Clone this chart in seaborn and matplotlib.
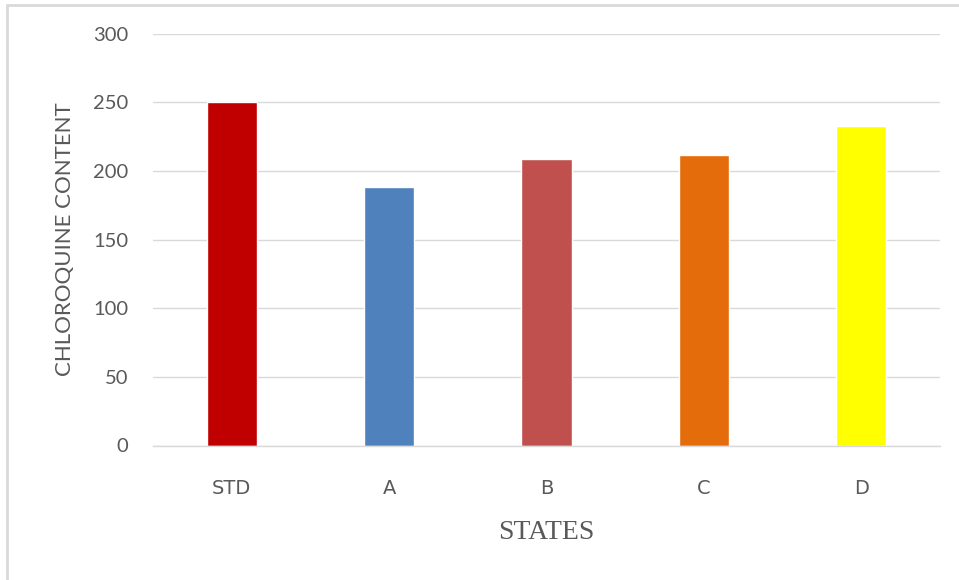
import matplotlib
matplotlib.use("Agg")
import matplotlib.pyplot as plt
from matplotlib.lines import Line2D
import seaborn as sns
import pandas as pd

# Chloroquine content by state
states = ["STD", "A", "B", "C", "D"]
content = [250, 188, 208.5, 211.4, 233]
bar_colors = ["#C00000", "#4F81BD", "#C0504D", "#E46C0A", "#FFFF00"]
y_ticks = [0, 50, 100, 150, 200, 250, 300]

df = pd.DataFrame({"state": states, "content": content})

sns.set_theme(style="white")
plt.rcParams["font.family"] = ["Lato", "DejaVu Sans"]

W, H = 959, 580
fig = plt.figure(figsize=(W / 100, H / 100), dpi=100)
ax = fig.add_axes([153 / W, 1 - 445.5 / H, (940 - 153) / W, (445.5 - 33.7) / H])

sns.barplot(data=df, x="state", y="content", hue="state", palette=bar_colors,
            order=states, hue_order=states, width=0.32, legend=False,
            saturation=1, ax=ax)

ax.set_ylim(0, 300)
ax.set_yticks(y_ticks)
ax.set_yticklabels([str(t) for t in y_ticks])
ax.yaxis.grid(True, color="#D9D9D9", linewidth=1)
ax.set_axisbelow(True)
for side in ("left", "right", "top"):
    ax.spines[side].set_visible(False)
ax.spines["bottom"].set_color("#D9D9D9")
ax.spines["bottom"].set_linewidth(1)
ax.tick_params(axis="both", length=0, colors="#595959")
ax.tick_params(axis="y", labelsize=14.5, pad=18)
ax.tick_params(axis="x", labelsize=14, pad=24)
for lbl in ax.get_xticklabels():
    lbl.set_family(["Liberation Sans Narrow", "DejaVu Sans"])

ax.set_xlabel("STATES", family=["Liberation Serif", "DejaVu Serif"],
              fontsize=20, color="#595959", labelpad=16)
ax.set_ylabel("CHLOROQUINE CONTENT", fontsize=16, color="#595959", labelpad=13)

# outer frame (left and top edges)
fig.add_artist(Line2D([6.5 / W, 6.5 / W], [0, 1 - 4.5 / H], color="#D9D9D9",
                      linewidth=2, transform=fig.transFigure))
fig.add_artist(Line2D([6.5 / W, 1], [1 - 4.5 / H, 1 - 4.5 / H], color="#D9D9D9",
                      linewidth=2, transform=fig.transFigure))

fig.savefig("out.png", dpi=100, facecolor="white")
